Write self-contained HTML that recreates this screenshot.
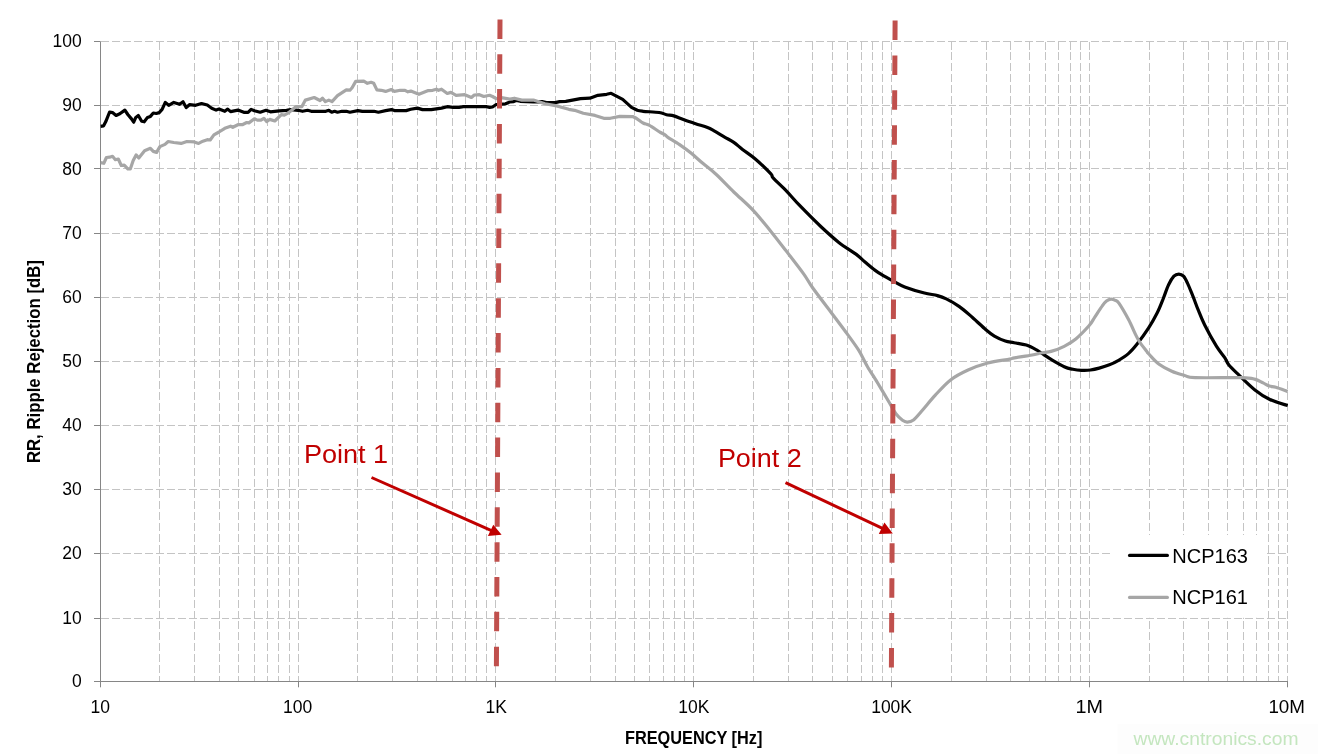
<!DOCTYPE html>
<html><head><meta charset="utf-8"><title>Ripple Rejection</title>
<style>
html,body{margin:0;padding:0;background:#fff;}
body{width:1318px;height:754px;overflow:hidden;font-family:"Liberation Sans",sans-serif;}
svg{display:block;will-change:transform;}
text{font-family:"Liberation Sans",sans-serif;}
</style></head><body>
<svg width="1318" height="754" viewBox="0 0 1318 754">
<rect x="0" y="0" width="1318" height="754" fill="#ffffff"/>
<g stroke="#c4c4c4" stroke-width="1" stroke-dasharray="8 3" shape-rendering="crispEdges" fill="none">
<line x1="100.5" y1="618.5" x2="1287.5" y2="618.5"/>
<line x1="100.5" y1="553.5" x2="1287.5" y2="553.5"/>
<line x1="100.5" y1="489.5" x2="1287.5" y2="489.5"/>
<line x1="100.5" y1="425.5" x2="1287.5" y2="425.5"/>
<line x1="100.5" y1="361.5" x2="1287.5" y2="361.5"/>
<line x1="100.5" y1="297.5" x2="1287.5" y2="297.5"/>
<line x1="100.5" y1="233.5" x2="1287.5" y2="233.5"/>
<line x1="100.5" y1="168.5" x2="1287.5" y2="168.5"/>
<line x1="100.5" y1="105.5" x2="1287.5" y2="105.5"/>
<line x1="100.5" y1="41.5" x2="1287.5" y2="41.5"/>
</g>
<g stroke="#c4c4c4" stroke-width="1" stroke-dasharray="8 2.943" shape-rendering="crispEdges" fill="none">
<line x1="159.5" y1="41.5" x2="159.5" y2="681.5"/>
<line x1="194.5" y1="41.5" x2="194.5" y2="681.5"/>
<line x1="219.5" y1="41.5" x2="219.5" y2="681.5"/>
<line x1="238.5" y1="41.5" x2="238.5" y2="681.5"/>
<line x1="254.5" y1="41.5" x2="254.5" y2="681.5"/>
<line x1="267.5" y1="41.5" x2="267.5" y2="681.5"/>
<line x1="278.5" y1="41.5" x2="278.5" y2="681.5"/>
<line x1="289.5" y1="41.5" x2="289.5" y2="681.5"/>
<line x1="298.5" y1="41.5" x2="298.5" y2="681.5"/>
<line x1="357.5" y1="41.5" x2="357.5" y2="681.5"/>
<line x1="392.5" y1="41.5" x2="392.5" y2="681.5"/>
<line x1="417.5" y1="41.5" x2="417.5" y2="681.5"/>
<line x1="436.5" y1="41.5" x2="436.5" y2="681.5"/>
<line x1="452.5" y1="41.5" x2="452.5" y2="681.5"/>
<line x1="465.5" y1="41.5" x2="465.5" y2="681.5"/>
<line x1="476.5" y1="41.5" x2="476.5" y2="681.5"/>
<line x1="486.5" y1="41.5" x2="486.5" y2="681.5"/>
<line x1="495.5" y1="41.5" x2="495.5" y2="681.5"/>
<line x1="555.5" y1="41.5" x2="555.5" y2="681.5"/>
<line x1="590.5" y1="41.5" x2="590.5" y2="681.5"/>
<line x1="615.5" y1="41.5" x2="615.5" y2="681.5"/>
<line x1="634.5" y1="41.5" x2="634.5" y2="681.5"/>
<line x1="649.5" y1="41.5" x2="649.5" y2="681.5"/>
<line x1="663.5" y1="41.5" x2="663.5" y2="681.5"/>
<line x1="674.5" y1="41.5" x2="674.5" y2="681.5"/>
<line x1="684.5" y1="41.5" x2="684.5" y2="681.5"/>
<line x1="693.5" y1="41.5" x2="693.5" y2="681.5"/>
<line x1="753.5" y1="41.5" x2="753.5" y2="681.5"/>
<line x1="788.5" y1="41.5" x2="788.5" y2="681.5"/>
<line x1="812.5" y1="41.5" x2="812.5" y2="681.5"/>
<line x1="832.5" y1="41.5" x2="832.5" y2="681.5"/>
<line x1="847.5" y1="41.5" x2="847.5" y2="681.5"/>
<line x1="861.5" y1="41.5" x2="861.5" y2="681.5"/>
<line x1="872.5" y1="41.5" x2="872.5" y2="681.5"/>
<line x1="882.5" y1="41.5" x2="882.5" y2="681.5"/>
<line x1="891.5" y1="41.5" x2="891.5" y2="681.5"/>
<line x1="951.5" y1="41.5" x2="951.5" y2="681.5"/>
<line x1="986.5" y1="41.5" x2="986.5" y2="681.5"/>
<line x1="1010.5" y1="41.5" x2="1010.5" y2="681.5"/>
<line x1="1029.5" y1="41.5" x2="1029.5" y2="681.5"/>
<line x1="1045.5" y1="41.5" x2="1045.5" y2="681.5"/>
<line x1="1058.5" y1="41.5" x2="1058.5" y2="681.5"/>
<line x1="1070.5" y1="41.5" x2="1070.5" y2="681.5"/>
<line x1="1080.5" y1="41.5" x2="1080.5" y2="681.5"/>
<line x1="1089.5" y1="41.5" x2="1089.5" y2="681.5"/>
<line x1="1149.5" y1="41.5" x2="1149.5" y2="681.5"/>
<line x1="1183.5" y1="41.5" x2="1183.5" y2="681.5"/>
<line x1="1208.5" y1="41.5" x2="1208.5" y2="681.5"/>
<line x1="1227.5" y1="41.5" x2="1227.5" y2="681.5"/>
<line x1="1243.5" y1="41.5" x2="1243.5" y2="681.5"/>
<line x1="1256.5" y1="41.5" x2="1256.5" y2="681.5"/>
<line x1="1268.5" y1="41.5" x2="1268.5" y2="681.5"/>
<line x1="1278.5" y1="41.5" x2="1278.5" y2="681.5"/>
<line x1="1287.5" y1="41.5" x2="1287.5" y2="681.5"/>
</g>
<rect x="1110" y="535" width="156.5" height="82.8" fill="#ffffff"/>
<g stroke="#868686" stroke-width="1" fill="none">
<line x1="100.5" y1="41.5" x2="100.5" y2="681.5"/>
<line x1="94.0" y1="681.5" x2="1288" y2="681.5"/>
<line x1="94.0" y1="618.5" x2="100.5" y2="618.5"/>
<line x1="94.0" y1="553.5" x2="100.5" y2="553.5"/>
<line x1="94.0" y1="489.5" x2="100.5" y2="489.5"/>
<line x1="94.0" y1="425.5" x2="100.5" y2="425.5"/>
<line x1="94.0" y1="361.5" x2="100.5" y2="361.5"/>
<line x1="94.0" y1="297.5" x2="100.5" y2="297.5"/>
<line x1="94.0" y1="233.5" x2="100.5" y2="233.5"/>
<line x1="94.0" y1="168.5" x2="100.5" y2="168.5"/>
<line x1="94.0" y1="105.5" x2="100.5" y2="105.5"/>
<line x1="94.0" y1="41.5" x2="100.5" y2="41.5"/>
<line x1="100.5" y1="681.5" x2="100.5" y2="687.3"/>
<line x1="298.5" y1="681.5" x2="298.5" y2="687.3"/>
<line x1="495.5" y1="681.5" x2="495.5" y2="687.3"/>
<line x1="693.5" y1="681.5" x2="693.5" y2="687.3"/>
<line x1="891.5" y1="681.5" x2="891.5" y2="687.3"/>
<line x1="1089.5" y1="681.5" x2="1089.5" y2="687.3"/>
<line x1="1287.5" y1="681.5" x2="1287.5" y2="687.3"/>
</g>
<clipPath id="pc"><rect x="100.5" y="30" width="1187.5" height="660"/></clipPath>
<path clip-path="url(#pc)" d="M100.4,126.3 L103.6,125.8 L105.8,121.6 L109.6,112.0 L112.5,112.6 L116.1,115.5 L119.8,113.8 L124.9,110.1 L127.8,114.5 L131.5,118.9 L133.7,122.2 L135.8,117.4 L138.3,115.5 L141.7,121.3 L144.2,121.8 L147.5,117.4 L150.4,116.4 L153.3,113.0 L156.3,113.5 L159.2,112.6 L162.1,109.4 L165.3,102.4 L168.7,105.3 L173.8,102.4 L179.6,104.3 L183.0,101.8 L186.2,107.6 L189.8,104.6 L195.6,105.3 L201.5,103.5 L207.3,105.0 L211.7,108.2 L216.1,110.1 L219.0,109.1 L224.8,111.3 L227.7,109.1 L230.6,111.6 L237.9,110.1 L243.8,112.3 L248.1,112.3 L251.1,109.4 L254.4,110.8 L260.2,112.2 L266.0,110.3 L270.4,111.8 L279.2,110.8 L286.5,110.3 L290.8,109.6 L298.1,110.3 L302.5,111.3 L307.6,110.3 L311.3,111.3 L325.8,111.3 L328.8,110.3 L331.7,112.2 L334.6,111.3 L337.5,112.2 L341.9,111.3 L346.3,111.3 L349.9,112.2 L357.9,110.6 L362.3,111.3 L374.0,111.3 L378.4,112.2 L385.6,110.6 L391.5,109.6 L394.4,110.6 L406.1,110.6 L410.8,109.3 L417.4,108.1 L422.5,109.6 L431.3,109.6 L441.5,108.1 L447.3,106.7 L453.1,107.4 L459.0,107.4 L463.3,106.7 L486.7,106.7 L489.6,107.4 L492.5,107.0 L496.2,104.5 L505.6,103.8 L510.0,101.9 L513.7,101.6 L515.9,100.5 L520.2,101.3 L533.4,101.9 L542.1,101.6 L546.5,102.6 L555.2,102.6 L559.6,101.6 L565.8,101.3 L580.4,98.7 L589.9,98.2 L597.9,95.3 L606.7,94.3 L611.1,93.3 L622.7,99.4 L631.5,107.4 L637.3,110.3 C639.2,110.9 639.5,110.9 643.1,111.3 C646.8,111.7 655.3,111.9 659.2,112.5 C663.1,113.1 664.1,114.1 666.5,114.7 C668.9,115.3 670.9,115.1 673.8,115.9 C676.7,116.8 680.4,118.5 684.0,119.8 C687.6,121.1 691.7,122.4 695.6,123.7 C699.5,125.0 704.4,126.3 707.5,127.5 C710.6,128.7 711.2,129.2 714.1,130.8 C717.0,132.4 721.7,135.4 725.0,137.3 C728.3,139.2 730.9,140.4 733.8,142.4 C736.7,144.4 738.9,146.6 742.5,149.4 C746.1,152.2 750.9,155.1 755.6,159.2 C760.3,163.3 768.0,170.7 770.9,173.8 C773.8,176.9 770.5,175.1 773.1,177.9 C775.7,180.8 781.9,186.4 786.3,190.9 C790.7,195.4 793.6,199.2 799.4,205.2 C805.2,211.2 814.7,220.8 821.3,227.0 C827.9,233.2 833.0,237.8 838.8,242.4 C844.6,247.0 851.9,251.1 856.3,254.4 C860.7,257.7 861.3,258.9 865.0,262.0 C868.7,265.1 873.6,269.5 878.4,272.7 C883.2,275.9 889.4,279.0 893.8,281.4 C898.2,283.8 899.6,285.0 904.7,286.9 C909.8,288.8 918.9,291.6 924.4,293.0 C929.9,294.4 933.9,294.6 937.5,295.6 C941.1,296.6 942.6,297.1 946.3,298.9 C949.9,300.7 955.0,303.5 959.4,306.6 C963.8,309.7 968.1,313.7 972.5,317.5 C976.9,321.3 982.0,326.4 985.6,329.5 C989.2,332.6 991.1,334.2 994.4,336.1 C997.7,338.0 1002.0,340.0 1005.3,341.1 C1008.6,342.2 1010.6,342.0 1014.1,342.7 C1017.6,343.4 1022.6,343.9 1026.3,345.1 C1030.0,346.3 1033.6,348.3 1036.5,349.9 C1039.4,351.5 1041.4,353.1 1043.8,354.7 C1046.2,356.3 1047.7,357.4 1051.1,359.4 C1054.5,361.4 1060.6,365.0 1064.2,366.7 C1067.8,368.4 1070.0,368.7 1072.9,369.3 C1075.8,369.9 1078.8,370.2 1081.7,370.3 C1084.6,370.4 1087.5,370.4 1090.4,370.0 C1093.3,369.6 1096.0,369.0 1099.2,368.1 C1102.4,367.2 1106.2,366.1 1109.4,364.8 C1112.6,363.6 1114.9,362.5 1118.1,360.6 C1121.3,358.7 1125.2,356.4 1128.4,353.6 C1131.6,350.9 1133.8,348.3 1137.1,344.1 C1140.4,339.9 1145.2,333.3 1148.5,328.2 C1151.8,323.1 1154.5,318.2 1157.0,313.3 C1159.5,308.4 1161.4,303.3 1163.3,298.5 C1165.2,293.7 1166.8,288.4 1168.6,284.7 C1170.4,281.0 1172.2,278.0 1173.9,276.2 C1175.6,274.4 1177.2,274.1 1178.8,274.1 C1180.4,274.1 1182.0,274.6 1183.5,276.2 C1185.0,277.8 1186.1,280.2 1187.7,283.6 C1189.3,287.0 1191.2,292.0 1193.0,296.4 C1194.8,300.8 1196.3,305.4 1198.3,310.2 C1200.2,315.0 1201.7,319.0 1204.7,325.0 C1207.7,331.0 1213.0,340.7 1216.4,346.2 C1219.8,351.7 1222.8,354.7 1224.9,357.9 C1227.0,361.1 1226.6,362.3 1229.1,365.3 C1231.6,368.3 1235.5,371.8 1239.7,375.9 C1244.0,380.0 1249.6,385.8 1254.6,389.7 C1259.5,393.6 1263.9,396.6 1269.4,399.3 C1274.9,402.0 1284.7,404.6 1287.7,405.6" fill="none" stroke="#000000" stroke-width="3.2" stroke-linejoin="round" stroke-linecap="butt"/>
<path clip-path="url(#pc)" d="M100.4,162.6 L103.8,163.3 L106.4,157.5 L109.6,157.2 L112.5,156.3 L115.4,159.7 L118.3,159.0 L121.3,165.5 L124.2,165.1 L127.8,168.9 L130.3,168.9 L133.2,160.4 L136.1,154.9 L138.8,158.0 L144.6,150.7 L150.4,148.3 L153.3,151.4 L156.6,152.4 L159.9,146.6 L165.0,144.4 L168.2,141.5 L173.8,142.5 L181.1,143.4 L186.9,141.5 L194.2,141.9 L198.6,143.4 L202.9,141.2 L207.3,139.7 L210.2,140.0 L213.9,134.9 L219.0,132.0 L224.8,128.3 L230.6,126.2 L232.8,127.3 L237.9,124.7 L242.3,124.7 L246.7,122.5 L248.9,122.9 L254.4,118.8 L257.3,120.1 L260.9,120.1 L263.9,118.3 L266.8,121.6 L269.7,119.4 L274.8,121.0 L281.4,114.7 L284.3,115.1 L287.9,113.2 L291.6,110.3 L295.9,106.7 L301.8,106.7 L305.4,100.1 L314.2,97.5 L320.0,100.5 L322.5,98.2 L325.4,101.6 L328.8,100.1 L332.0,101.6 L337.5,95.7 L346.3,89.9 L349.9,90.2 L352.1,87.7 L355.7,81.4 L363.8,81.1 L367.4,83.3 L371.1,82.3 L373.7,83.3 L376.9,89.9 L381.3,90.3 L385.6,91.4 L391.2,89.5 L394.4,91.4 L400.2,90.3 L405.0,90.3 L407.9,91.8 L410.8,91.1 L418.9,94.3 L428.3,90.6 L432.7,90.3 L436.4,89.2 L438.5,90.3 L441.5,89.2 L447.3,93.5 L450.9,92.4 L456.1,95.3 L464.8,94.7 L471.4,97.5 L474.3,95.0 L479.4,94.7 L483.8,96.5 L489.6,95.3 L492.5,96.5 L496.2,98.7 L501.3,97.6 L510.0,99.1 L514.4,98.2 L521.7,100.1 L533.4,100.1 L545.0,103.8 L556.7,105.9 L568.8,109.3 L574.6,110.3 L583.3,113.2 L595.0,115.4 L603.8,118.3 L610.3,118.3 L619.8,116.4 L632.9,116.6 C636.8,117.7 640.4,121.6 643.1,123.0 C645.8,124.4 646.1,123.6 649.0,125.2 C651.9,126.8 657.9,130.9 660.6,132.5 C663.3,134.1 663.8,134.0 665.0,134.8 C666.2,135.6 665.5,135.7 667.9,137.3 C670.3,138.9 675.7,141.9 679.6,144.6 C683.5,147.3 687.4,150.1 691.3,153.3 C695.2,156.5 698.9,160.1 703.1,163.6 C707.3,167.1 711.2,169.8 716.3,174.5 C721.4,179.2 727.6,186.0 733.8,192.0 C740.0,198.0 747.2,204.0 753.4,210.6 C759.6,217.2 765.4,224.7 770.9,231.4 C776.4,238.2 780.8,244.0 786.3,251.1 C791.8,258.2 799.4,268.0 803.8,274.1 C808.2,280.2 808.0,281.3 812.8,288.0 C817.6,294.7 827.0,306.9 832.5,314.2 C838.0,321.5 841.2,325.7 845.6,331.7 C850.0,337.7 855.1,344.5 858.8,350.3 C862.4,356.1 864.2,361.1 867.5,366.7 C870.8,372.3 874.8,378.2 878.4,384.2 C882.0,390.2 886.5,397.9 889.4,402.8 C892.3,407.7 893.7,410.9 895.9,413.8 C898.1,416.7 900.6,418.9 902.5,420.3 C904.4,421.7 905.5,422.2 907.3,422.1 C909.1,422.0 911.0,421.8 913.5,419.9 C916.0,418.0 918.6,414.6 922.2,410.5 C925.8,406.4 930.6,400.3 935.3,395.2 C940.0,390.1 945.1,384.1 950.6,379.9 C956.1,375.7 961.9,372.8 968.1,370.0 C974.3,367.2 980.9,364.8 987.8,363.0 C994.7,361.2 1005.2,360.0 1009.7,359.1 C1014.2,358.2 1010.9,358.6 1014.6,357.9 C1018.3,357.2 1027.5,355.9 1032.1,355.0 C1036.7,354.1 1039.1,353.4 1042.3,352.8 C1045.5,352.2 1047.4,352.5 1051.1,351.4 C1054.8,350.3 1060.1,348.4 1064.2,346.3 C1068.3,344.2 1071.7,342.4 1075.8,339.0 C1079.9,335.6 1085.8,329.4 1089.0,325.8 C1092.2,322.2 1092.6,320.4 1094.8,317.1 C1097.0,313.8 1100.1,308.8 1102.1,306.1 C1104.0,303.4 1105.0,302.2 1106.5,301.0 C1108.0,299.8 1109.5,299.2 1110.9,299.1 C1112.4,299.0 1113.9,299.6 1115.2,300.3 C1116.5,301.0 1116.7,300.0 1118.9,303.2 C1121.1,306.4 1125.6,314.1 1128.4,319.3 C1131.2,324.5 1133.7,330.7 1135.6,334.6 C1137.5,338.5 1138.0,339.7 1140.0,342.6 C1142.0,345.5 1145.9,350.2 1147.3,352.1 C1148.7,354.0 1146.5,351.7 1148.5,353.7 C1150.5,355.7 1155.2,361.4 1159.1,364.3 C1163.0,367.2 1167.5,369.4 1171.8,371.3 C1176.0,373.2 1180.7,374.4 1184.6,375.5 C1188.5,376.6 1185.7,377.2 1195.2,377.6 C1204.7,378.0 1231.9,377.4 1241.8,377.6 C1251.7,377.9 1251.0,378.2 1254.6,379.1 C1258.1,380.0 1260.6,381.7 1263.1,382.9 C1265.6,384.1 1267.3,385.4 1269.4,386.1 C1271.5,386.8 1272.8,386.3 1275.8,387.2 C1278.8,388.1 1285.7,390.7 1287.7,391.4" fill="none" stroke="#a6a6a6" stroke-width="3.2" stroke-linejoin="round" stroke-linecap="butt"/>
<g stroke="#c0504d" stroke-width="5" stroke-dasharray="19.5 15.35" fill="none">
<line x1="500.0" y1="19.4" x2="496.4" y2="666.5"/>
<line x1="895.1" y1="20.6" x2="891.4" y2="667.4"/>
</g>
<line x1="371.5" y1="477.5" x2="491.5" y2="530.6" stroke="#c00000" stroke-width="3"/><polygon points="501.6,534.7 493.3,524.7 487.9,536.0" fill="#c00000"/>
<line x1="785.5" y1="482.6" x2="882.5" y2="528.4" stroke="#c00000" stroke-width="3"/><polygon points="892.8,533.5 884.4,522.5 878.8,534.0" fill="#c00000"/>
<g fill="#c00000" font-size="26">
<text x="303.9" y="463.1" textLength="84.3" lengthAdjust="spacingAndGlyphs">Point 1</text>
<text x="717.9" y="467" textLength="83.9" lengthAdjust="spacingAndGlyphs">Point 2</text>
</g>
<g fill="#000000" font-size="17.5">
<text x="81.8" y="687.2" text-anchor="end">0</text>
<text x="81.8" y="624.4" text-anchor="end">10</text>
<text x="81.8" y="559.2" text-anchor="end">20</text>
<text x="81.8" y="495.2" text-anchor="end">30</text>
<text x="81.8" y="431.2" text-anchor="end">40</text>
<text x="81.8" y="367.2" text-anchor="end">50</text>
<text x="81.8" y="303.2" text-anchor="end">60</text>
<text x="81.8" y="239.2" text-anchor="end">70</text>
<text x="81.8" y="175.2" text-anchor="end">80</text>
<text x="81.8" y="111.2" text-anchor="end">90</text>
<text x="81.8" y="47.2" text-anchor="end">100</text>
<text x="100.3" y="712.7" text-anchor="middle">10</text>
<text x="297.7" y="712.7" text-anchor="middle">100</text>
<text x="496.2" y="712.7" text-anchor="middle">1K</text>
<text x="693.8" y="712.7" text-anchor="middle">10K</text>
<text x="891.6" y="712.7" text-anchor="middle">100K</text>
<text x="1089.2" y="712.7" text-anchor="middle" textLength="27.5" lengthAdjust="spacingAndGlyphs">1M</text>
<text x="1286.7" y="712.7" text-anchor="middle" textLength="36.6" lengthAdjust="spacingAndGlyphs">10M</text>
</g>
<text x="693.7" y="744" text-anchor="middle" font-weight="bold" font-size="17.6" textLength="137.4" lengthAdjust="spacingAndGlyphs" fill="#000">FREQUENCY [Hz]</text>
<text transform="translate(40.1,361.6) rotate(-90)" text-anchor="middle" font-weight="bold" font-size="17.7" textLength="203" lengthAdjust="spacingAndGlyphs" fill="#000">RR, Ripple Rejection [dB]</text>
<line x1="1129.5" y1="555.4" x2="1167.4" y2="555.4" stroke="#000" stroke-width="3.1" stroke-linecap="round"/>
<line x1="1129.5" y1="597.4" x2="1167.4" y2="597.4" stroke="#a6a6a6" stroke-width="3.1" stroke-linecap="round"/>
<g fill="#000" font-size="20.1">
<text x="1172.3" y="562.5" textLength="75.7" lengthAdjust="spacingAndGlyphs">NCP163</text>
<text x="1172.3" y="603.9" textLength="75.7" lengthAdjust="spacingAndGlyphs">NCP161</text>
</g>
<rect x="1117.5" y="724" width="200.5" height="30" fill="#fdfdfd"/>
<text x="1133.5" y="744.6" font-size="19" fill="#c4e6bf" textLength="165" lengthAdjust="spacingAndGlyphs">www.cntronics.com</text>
</svg>
</body></html>
